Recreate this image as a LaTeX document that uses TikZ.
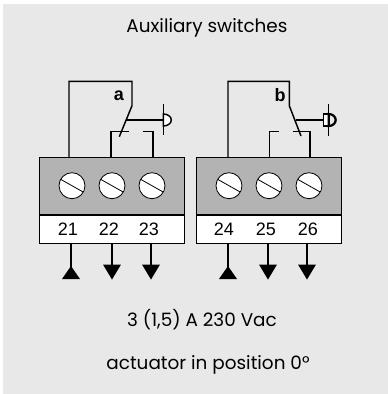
\documentclass[tikz,border=0pt]{standalone}
\usepackage{xcolor}
\usepackage{fontspec}
\setmainfont{Poppins}
\newfontfamily\numfont{Liberation Sans}
\usetikzlibrary{positioning, calc}
\definecolor{panelgrey}{RGB}{232,232,232}
\definecolor{blockgrey}{RGB}{179,179,179}

\begin{document}
\begin{tikzpicture}[x=0.75pt, y=-0.75pt]
		\tikzstyle{blockr}=[draw=black, minimum height=21.5pt, minimum width=108.5pt, inner sep=0pt, fill=white, line width=0.7pt]
		\tikzstyle{blockg}=[draw=black, minimum height=42.5pt, minimum width=108.5pt, inner sep=0pt, fill=blockgrey, line width=0.7pt, anchor=north west]
		\tikzstyle{screw}=[draw=black, circle, minimum size=19.5pt, inner sep=0pt, fill=white, line width=0.6pt]
		\tikzstyle{wire}=[draw=black, line width=1.1pt]
		\tikzstyle{caption}=[text=black, font=\fontsize{13.8}{16}\selectfont]
		\tikzstyle{num}=[text=black, font=\numfont\fontsize{13.5}{16}\selectfont]
		\tikzstyle{tag}=[text=black, font=\numfont\bfseries\fontsize{13.5}{16}\selectfont]
		
		\useasboundingbox (0,0) rectangle (388,394);
		\fill[panelgrey] (3,4) rectangle (388,394);
		
		\node [caption] (title) at (207,28) {Auxiliary switches};
		\node [caption] (rating) at (202,320) {3 (1,5) A 230 Vac};
		\node [caption] (pos) at (208,365) {actuator in position 0°};
		
		%% terminal blocks
		\node [blockg] (G1) at (39.5,157) {};
		\node [blockr, below=0pt of G1.south] (W1) {};
		\node [blockg] (G2) at (196.5,157) {};
		\node [blockr, below=0pt of G2.south] (W2) {};
		
		%% screws, numbers and leads
		\foreach \n/\x/\lx/\ax in {21/72/68/71, 22/112/109/112, 23/152/149/151, 24/229/224/228, 25/269/266/268, 26/309/308/307}
		{
		\node [screw] (S\n) at (\x,185.7) {};
		\draw [line width=0.6pt] ($(S\n)+(-11,-6.2)$) -- ($(S\n)+(11,6.2)$);
		\node [num] (N\n) at (\lx,229) {\n};
		\coordinate (A\n) at (\ax,244);
		\coordinate (B\n) at (\ax,272);
		\draw [wire] (A\n) -- (B\n);
		}
		
		%% arrows
		\foreach \n in {21,24}
		\fill ($(B\n)+(0,-6)$) -- ($(B\n)+(9,7)$) -- ($(B\n)+(-9,7)$) -- cycle;
		\foreach \n in {22,23,25,26}
		\fill ($(B\n)+(-9,-7.5)$) -- ($(B\n)+(9,-7.5)$) -- ($(B\n)+(0,7.5)$) -- cycle;
		
		%% switch a
		\coordinate (K1) at (132,105.7);
		\coordinate (E1) at (119.3,136.7);
		\coordinate (C22) at (129,131.3);
		\coordinate (C23) at (143,131.3);
		\coordinate (H1) at (126,120);
		\coordinate (P1) at (163.3,120);
		\node [tag] (a) at (119,95.5) {a};
		\draw [wire] (69,157) |- (132,81.3) -- (K1) -- (E1);
		\draw [wire] (111,157) |- (C22);
		\draw [wire] (153,157) |- (C23);
		\draw [wire] (H1) -- (P1);
		\draw [wire, fill=white] ($(P1)+(0,-6)$) arc (-90:90:8 and 6) -- cycle;
		\draw [wire] ($(P1)+(0,-16)$) -- ($(P1)+(0,15)$);
		
		%% switch b
		\coordinate (K2) at (289.3,105.7);
		\coordinate (E2) at (301,136);
		\coordinate (C25) at (279,131.3);
		\coordinate (C26) at (293,131.3);
		\coordinate (H2) at (296,120);
		\coordinate (P2) at (328.7,120);
		\node [tag] (b) at (280,95.5) {b};
		\draw [wire] (228,157) |- (289.3,81.3) -- (K2) -- (E2);
		\draw [wire] (269.7,157) |- (C25);
		\draw [wire] (310,157) |- (C26);
		\draw [wire] (H2) -- ($(P2)+(-5,0)$);
		\draw [wire, fill=white] ($(P2)+(-5,-6)$) rectangle ($(P2)+(0,6)$);
		\draw [line width=1.7pt] ($(P2)+(0,-6)$) arc (-90:90:7 and 6) -- cycle;
		\draw [wire] ($(P2)+(0,-16)$) -- ($(P2)+(0,16)$);
		
\end{tikzpicture}
\end{document}
